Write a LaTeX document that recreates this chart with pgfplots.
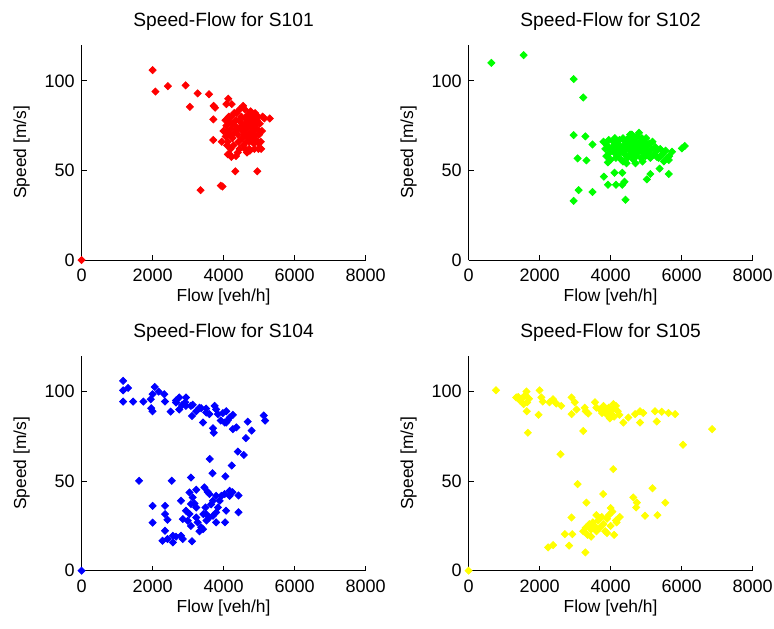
\documentclass[border=0pt]{standalone}
\usepackage{fontspec}
\setmainfont{Liberation Sans}
\usepackage{pgfplots}
\pgfplotsset{compat=1.18}
\definecolor{mred}{RGB}{255,0,0}
\definecolor{mgreen}{RGB}{0,255,0}
\definecolor{mblue}{RGB}{0,0,255}
\definecolor{myellow}{RGB}{255,255,0}

% MATLAB-like subplot look
\pgfplotsset{every axis title shift=0pt}
\pgfplotsset{sfplot/.style={
  width=142pt, height=107.5pt, scale only axis,
  anchor=south west,
  xmin=0, xmax=8000, ymin=0, ymax=120,
  xtick={0,2000,4000,6000,8000}, ytick={0,50,100},
  scaled x ticks=false,
  xticklabel style={/pgf/number format/1000 sep={}, font=\fontsize{9}{10}\selectfont, yshift=-1pt},
  yticklabel style={font=\fontsize{9}{10}\selectfont},
  /pgf/number format/assume math mode=true,
  axis x line*=bottom, axis y line*=left,
  axis line style={-, black, line width=0.5pt},
  tick align=inside, major tick length=2.5pt,
  tick style={black, line width=0.5pt},
  xlabel={Flow [veh/h]}, ylabel={Speed [m/s]},
  xlabel style={at={(axis description cs:0.5,-0.172)}, anchor=center, font=\fontsize{8.7}{10}\selectfont},
  ylabel style={at={(axis description cs:-0.211,0.5)}, anchor=center, font=\fontsize{8.7}{10}\selectfont},
  title style={at={(axis description cs:0.5,1.107)}, anchor=center, font=\fontsize{9.6}{11}\selectfont},
  clip=false,
}}
\pgfplotsset{sfmark/.style={only marks, mark=square*, mark size=1.25pt, color=#1, mark options={rotate=45, fill=#1, draw=#1}}}

\begin{document}
\begin{tikzpicture}
\useasboundingbox (0,0) rectangle (387pt,314pt);

% S101
\begin{axis}[sfplot, at={(40.8pt,184pt)}, title={Speed-Flow for S101}]
\addplot[sfmark=mred] coordinates {
 (0,0) (2000,106) (2080,94) (2430,97) (2930,97.5) (3270,93) (3590,92.5) (3050,85.5)
 (3720,86) (3760,85) (3710,78.5) (3710,67) (4130,90) (4230,87) (4080,87)
 (3350,39) (3920,41.5) (3970,41) (4330,49.5) (4950,49.5) (4220,57.5) (4120,59) (4170,59)
 (5300,79) (4740,61) (4980,62)
 (4050,78) (4080,75) (4100,72) (4060,69) (4120,66) (4150,70) (4200,73) (4180,77) (4220,80)
 (4250,68) (4280,64) (4300,71) (4320,75) (4350,78) (4370,82) (4400,70) (4420,66) (4450,62)
 (4460,74) (4480,77) (4500,80) (4520,68) (4540,72) (4560,64) (4580,75) (4600,84) (4610,79)
 (4620,70) (4640,66) (4650,73) (4670,77) (4680,81) (4700,68) (4710,75) (4720,62) (4740,79)
 (4750,71) (4760,83) (4780,67) (4790,74) (4800,77) (4810,81) (4830,69) (4840,72) (4850,65)
 (4860,79) (4880,75) (4890,82) (4900,70) (4920,67) (4940,78) (4950,73) (4970,80) (5000,70)
 (5020,76) (5050,66) (5080,72) (5100,80) (5150,79) (4400,60) (4350,58) (4600,62) (4550,86)
 (4450,84) (4300,82) (4150,80) (4000,72) (3950,66) (4100,64) (4200,62) (4580,70) (4660,60)
 (4720,66) (4500,73) (4430,78) (4380,73) (4260,76) (4870,62) (4990,65) (5060,62)
};
\end{axis}

% S102
\begin{axis}[sfplot, at={(234.3pt,184pt)}, title={Speed-Flow for S102}]
\addplot[sfmark=mgreen] coordinates {
 (640,110) (1550,114.3) (2960,101) (3230,90.7) (2960,69.7) (3290,69) (3070,56.7) (3320,55.6)
 (3490,64.5) (3100,39) (3490,38) (2960,33) (3925,54.5) (3810,46.5) (4110,48.7) (4330,48.7)
 (3925,42) (4150,42) (4330,42) (4390,43.7) (4420,33.6) (5020,45) (5120,48) (5380,51)
 (5640,48) (5300,57.6) (5640,55.8) (5730,60.4) (6010,62.3) (6090,63.6) (5420,58.2)
 (3800,66) (3850,62) (3880,58) (3900,64) (3950,67) (3980,60) (4000,56) (4050,63) (4080,66)
 (4100,60) (4120,68) (4150,57) (4180,62) (4200,65) (4230,59) (4250,67) (4280,63) (4300,56)
 (4320,61) (4350,68) (4380,64) (4400,59) (4420,66) (4450,62) (4470,57) (4500,68) (4520,64)
 (4540,61) (4560,66) (4580,59) (4600,70) (4620,63) (4640,56) (4660,67) (4680,61) (4700,65)
 (4720,58) (4740,69) (4760,63) (4780,60) (4800,71) (4820,66) (4840,62) (4860,57) (4880,68)
 (4900,64) (4920,60) (4940,66) (4960,62) (4980,58) (5000,68) (5030,64) (5060,60) (5090,65)
 (5120,57) (5150,62) (5180,66) (5220,59) (5260,63) (5300,61) (5350,57) (5400,62) (5450,59)
 (5500,55) (5550,61) (5600,57) (5650,58) (4450,54) (4550,70) (4350,55) (3950,62) (4700,54)
 (4900,55) (4150,64) (4600,60) (4750,62) (4850,65) (4500,62)
};
\end{axis}

% S104
\begin{axis}[sfplot, at={(40.8pt,28.65pt)}, title={Speed-Flow for S104}]
\addplot[sfmark=mblue] coordinates {
 (0,0) (1170,106) (1170,100.7) (1310,102) (1170,94.4) (1450,94.4) (1740,94.4) (1950,95.7)
 (2000,98.5) (2060,102.6) (2170,100) (2330,98.5) (2000,89) (1960,90.7) (2350,94.4)
 (2510,88.8) (2660,95) (2940,96.7) (2750,90) (2830,92.5) (2920,94) (3080,92) (3110,86.4)
 (3230,89) (3370,90.7) (3420,82.7) (3510,88.3) (3600,87.4) (3700,79.5) (3720,77) (3790,90)
 (3840,87.4) (3750,92) (4075,89) (4170,85.5) (4260,87) (4030,82.7) (4260,79) (4360,80)
 (4680,83.2) (4790,78.2) (4630,74) (4570,64.6) (4400,66.5) (4230,58.7) (5130,86.6) (5170,83.8)
 (3980,88) (4075,82.7) (4120,84) (3320,91) (2940,92) (2750,96.7) (2660,93.9) (3130,92.6)
 (3510,90.5) (3920,83.8)
 (1620,50.2) (2540,50.2) (2000,36.2) (2000,26.8) (2350,36.2) (2350,31.6) (2420,28.4)
 (2350,22.3) (2280,16.7) (2420,17.7) (2570,19.5) (2660,19) (2570,15.8) (2800,19.5)
 (2850,17.7) (3110,16.4) (3080,52) (3040,43.7) (3230,45.2) (3460,46.5) (3080,37.2)
 (3180,37.5) (3230,35.3) (2940,33.5) (3040,31.6) (2850,28.8) (2990,27.9) (3080,25)
 (3230,29.7) (3320,22) (3420,23.2) (3510,31.6) (3600,29.7) (3700,30.7) (3790,32.5)
 (3840,35.3) (3890,39) (3940,41.8) (4030,42.8) (4170,44.6) (4250,43.8) (4420,42)
 (4420,32.6) (4040,27) (4070,33.5) (4170,41.8) (3790,27) (3610,62.4) (3690,54.4)
 (4050,52.7) (3600,42.8) (3370,24.2) (3270,27) (3430,31.6) (3490,35.3) (3700,39)
 (3790,41.8) (2800,39) (3130,40.9) (3550,44) (3650,37) (3520,28)
};
\end{axis}

% S105
\begin{axis}[sfplot, at={(234.3pt,28.65pt)}, title={Speed-Flow for S105}]
\addplot[sfmark=myellow] coordinates {
 (0,0) (770,100.7) (1340,96.7) (1400,97) (1450,95) (1500,96) (1550,93) (1600,98) (1630,100)
 (1650,94) (1700,96) (1640,89) (1670,77) (2000,100.7) (2050,96.7) (1970,87) (2090,94.4)
 (2280,94) (2380,95.7) (2470,93.3) (2610,92) (2590,65) (2900,96.7) (2990,94) (3040,90)
 (2900,87.4) (3230,78) (3300,89) (3370,87.7) (3270,91) (3560,94) (3600,91)
 (3700,90) (3760,88) (3800,92) (3850,89) (3900,87) (3950,91) (4000,88) (4050,90) (4100,86)
 (4150,92) (4200,89) (4250,87) (3980,85) (4080,93)
 (4360,82.7) (4500,85.5) (4690,87.4) (4830,89) (4920,88) (4830,82.7) (5250,89) (5300,83.3)
 (5440,88.7) (5630,88) (5820,87.4) (6040,70.3) (6860,79)
 (4075,56.7) (3070,48.3) (3790,42.8) (3320,38) (4640,40.9) (4740,38) (4720,35.3) (5180,46)
 (5540,38) (4970,30.7) (5320,31) (2900,29.7) (2710,20.4) (2920,20.4) (2240,13) (2380,14.3)
 (2830,14) (3290,10.2)
 (3230,22) (3300,24) (3350,20) (3400,26) (3450,23) (3500,27) (3550,25) (3600,22) (3650,28)
 (3700,24) (3750,30) (3800,26) (3850,22) (3900,29) (3950,31) (4000,25) (4050,33) (4100,20)
 (4150,28) (4000,35) (3900,21) (3600,31) (3450,19) (4260,30) (4170,27)
};
\end{axis}
\end{tikzpicture}
\end{document}
